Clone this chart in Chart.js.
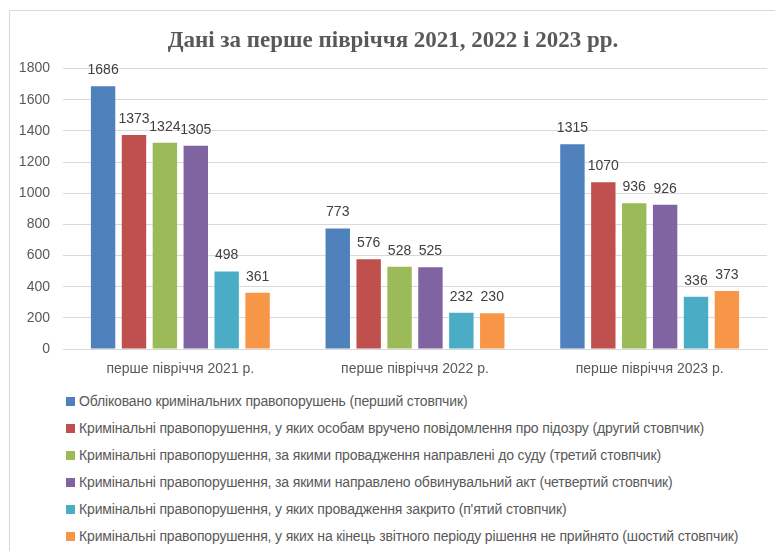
<!DOCTYPE html>
<html>
<head>
<meta charset="utf-8">
<script src="https://cdn.jsdelivr.net/npm/chart.js@4/dist/chart.umd.min.js"></script>
<style>
    body { margin: 0; background: #fff; }
    #wrap { position: relative; width: 775px; height: 551px; overflow: hidden; }
    #frame { position: absolute; left: 9px; top: 10px; width: 800px; height: 600px; border: 1px solid #d9d9d9; box-sizing: border-box; }
    #chartBox { position: absolute; left: 0; top: 0; width: 775px; height: 379px; }
    #legend { position: absolute; left: 66px; top: 391px; margin: 0; padding: 0; list-style: none;
        font-family: 'Liberation Sans', sans-serif; font-size: 14px; letter-spacing: -0.15px; color: #595959; }
    #legend li { height: 27px; line-height: 20px; white-space: nowrap; }
    #legend span { display: inline-block; width: 9px; height: 9px; margin-right: 4px; vertical-align: 0px; }
</style>
</head>
<body>
<div id="wrap">
    <div id="frame"></div>
    <div id="chartBox"><canvas id="barChart"></canvas></div>
    <ul id="legend"></ul>
</div>
<script>
var titleText = "Дані за перше півріччя 2021, 2022 і 2023 рр.";
var categories = ["перше півріччя 2021 р.", "перше півріччя 2022 р.", "перше півріччя 2023 р."];
var seriesNames = [
    "Обліковано кримінальних правопорушень (перший стовпчик)",
    "Кримінальні правопорушення, у яких особам вручено повідомлення про підозру (другий стовпчик)",
    "Кримінальні правопорушення, за якими провадження направлені до суду (третий стовпчик)",
    "Кримінальні правопорушення, за якими направлено обвинувальний акт (четвертий стовпчик)",
    "Кримінальні правопорушення, у яких провадження закрито (п'ятий стовпчик)",
    "Кримінальні правопорушення, у яких на кінець звітного періоду рішення не прийнято (шостий стовпчик)"
];
var registered = [1686, 773, 1315];
var suspicion = [1373, 576, 1070];
var toCourt = [1324, 528, 936];
var indictment = [1305, 525, 926];
var closedCases = [498, 232, 336];
var undecided = [361, 230, 373];
var colors = ["#4F81BD", "#C0504D", "#9BBB59", "#8064A2", "#4BACC6", "#F79646"];

var seriesValues = [registered, suspicion, toCourt, indictment, closedCases, undecided];
var datasets = seriesValues.map(function (vals, i) {
    return {
        label: seriesNames[i],
        data: vals,
        backgroundColor: colors[i],
        borderWidth: 0,
        categoryPercentage: 0.79,
        barPercentage: 0.79
    };
});

// values above the bars
var valueLabels = {
    id: "valueLabels",
    afterDatasetsDraw: function (chart) {
        var ctx = chart.ctx;
        ctx.save();
        ctx.font = "14px 'Liberation Sans', sans-serif";
        ctx.fillStyle = "#404040";
        ctx.textAlign = "center";
        ctx.textBaseline = "middle";
        chart.data.datasets.forEach(function (ds, i) {
            chart.getDatasetMeta(i).data.forEach(function (bar, j) {
                ctx.fillText(ds.data[j], bar.x, bar.y - 16);
            });
        });
        ctx.restore();
    }
};

var chart = new Chart(document.getElementById("barChart").getContext("2d"), {
    type: "bar",
    data: { labels: categories, datasets: datasets },
    options: {
        responsive: true,
        maintainAspectRatio: false,
        animation: false,
        layout: { padding: { left: 19, right: 8, top: 10, bottom: 0 } },
        plugins: {
            legend: { display: false },
            tooltip: { enabled: false },
            title: {
                display: true,
                text: titleText,
                color: "#595959",
                font: { family: "'Liberation Serif', serif", size: 23, weight: "bold" },
                padding: { top: 17, bottom: 14 }
            }
        },
        scales: {
            x: {
                grid: { display: false, drawTicks: false },
                border: { color: "#d9d9d9" },
                ticks: { color: "#595959", padding: 12,
                    font: { family: "'Liberation Sans', sans-serif", size: 14 } },
                afterFit: function (s) { s.height = 30; }
            },
            y: {
                min: 0,
                max: 1800,
                ticks: { stepSize: 200, color: "#595959", padding: 13,
                    font: { family: "'Liberation Sans', sans-serif", size: 14 },
                    callback: function (v) { return String(v); } },
                grid: { color: "#d9d9d9", drawTicks: false },
                border: { display: false },
                afterFit: function (s) { s.width = 44; }
            }
        }
    },
    plugins: [valueLabels]
});

var legendEl = document.getElementById("legend");
chart.data.datasets.forEach(function (ds) {
    var li = document.createElement("li");
    var box = document.createElement("span");
    box.style.backgroundColor = ds.backgroundColor;
    li.appendChild(box);
    li.appendChild(document.createTextNode(ds.label));
    legendEl.appendChild(li);
});
</script>
</body>
</html>
